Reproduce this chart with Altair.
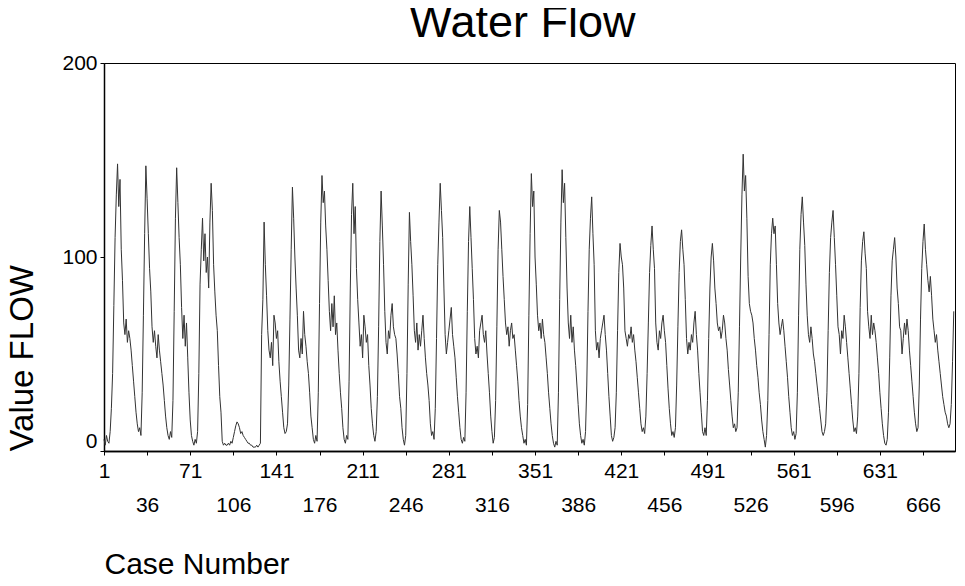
import altair as alt
import pandas as pd

# Water flow values (case 1 .. 691)
flow_a = [  # cases 1-95
    6, 3, 8, 5, 4, 10, 22, 40, 75, 110, 132,
    148, 126, 140, 104, 88, 66, 60, 68, 56, 62, 58, 52, 44, 36, 28, 20, 14, 10, 12, 8, 30, 70, 112,
    147, 130, 112, 94, 82, 64, 56, 62, 54, 48, 60, 52, 46, 40, 34, 26, 18, 12, 8, 6, 10, 7, 26, 72, 120,
    146, 128, 110, 96, 74, 58, 70, 54, 66, 48, 30, 16, 8, 5, 3, 6, 4, 10, 40, 86, 104,
    120, 98, 112, 92, 100, 84, 118, 138, 124, 96, 82, 70, 62, 44, 28,
]
flow_b = [  # cases 96-130
    20, 5, 3, 4, 3, 3, 4, 3, 5, 4, 7, 10, 13, 15, 14, 12, 9, 10, 8, 7,
    6, 5, 4, 4, 3, 3, 2, 2, 2, 3, 2, 3, 4, 60, 78,
]
flow_c = [  # cases 131-347
    118, 96, 80, 62, 52, 48, 56, 44, 70, 66, 58, 62, 46, 36, 28, 20, 12, 9, 10, 14, 34, 68, 104,
    136, 120, 100, 84, 70, 52, 48, 58, 50, 72, 60, 54, 46, 40, 30, 18, 12, 6, 4, 8, 5, 30, 76, 118,
    142, 128, 134, 116, 104, 88, 72, 62, 76, 64, 80, 60, 66, 52, 40, 30, 22, 12, 6, 4, 8, 6, 36, 84, 122,
    138, 112, 126, 94, 78, 66, 54, 60, 48, 70, 64, 56, 60, 44, 34, 22, 14, 8, 5, 10, 28, 64, 108,
    134, 116, 96, 72, 56, 50, 62, 58, 70, 76, 64, 60, 58, 50, 40, 28, 22, 12, 6, 3, 8, 40, 86,
    123, 108, 96, 80, 62, 56, 66, 52, 60, 54, 62, 70, 58, 48, 40, 34, 26, 14, 8, 10, 6, 22, 58, 96, 118,
    138, 124, 110, 84, 60, 50, 56, 62, 68, 74, 60, 54, 48, 38, 28, 20, 12, 6, 4, 7, 5, 30, 72, 108,
    126, 110, 94, 78, 58, 50, 54, 48, 62, 66, 70, 60, 56, 62, 50, 40, 30, 18, 10, 4, 7, 26, 64, 104,
    124, 118, 104, 90, 78, 66, 60, 64, 54, 62, 66, 58, 60, 52, 44, 36, 26, 18, 12, 8, 4, 6, 3, 24, 70, 112,
]
flow_d = [  # cases 348-691
    143, 126, 134, 100, 86, 70, 62, 66, 58, 68, 60, 56, 48, 40, 30, 22, 14, 8, 4, 2, 5, 3, 30, 78, 118,
    145, 128, 138, 110, 84, 66, 58, 70, 56, 64, 52, 44, 34, 24, 14, 8, 4, 6, 3, 10, 34, 72, 104, 120,
    131, 112, 96, 62, 52, 56, 48, 58, 62, 66, 70, 60, 52, 40, 28, 18, 8, 5, 7, 12, 30, 62, 92,
    107, 100, 96, 84, 62, 58, 54, 60, 58, 64, 56, 60, 52, 46, 38, 30, 22, 14, 10, 12, 9, 18, 40, 66, 92, 106,
    116, 104, 94, 66, 56, 52, 62, 58, 66, 70, 62, 56, 44, 32, 22, 14, 8, 10, 7, 12, 34, 64, 92, 108,
    114, 104, 96, 78, 58, 50, 56, 52, 60, 56, 66, 72, 60, 52, 40, 30, 20, 10, 8, 12, 8, 26, 58, 84, 100,
    107, 98, 84, 76, 66, 62, 64, 58, 62, 70, 66, 58, 52, 42, 34, 26, 18, 12, 14, 10, 12, 30, 64, 100, 132,
    153, 134, 142, 120, 90, 76, 72, 70, 66, 58, 52, 44, 38, 30, 24, 16, 10, 6, 2, 8, 26, 60, 96, 112,
    120, 112, 116, 96, 76, 66, 60, 64, 68, 62, 54, 46, 38, 28, 20, 12, 8, 10, 6, 9, 30, 70, 104, 122,
    131, 118, 106, 86, 70, 60, 56, 64, 58, 50, 46, 40, 34, 28, 22, 16, 10, 8, 10, 14, 30, 62, 92, 110, 118,
    124, 110, 96, 80, 64, 60, 50, 62, 58, 70, 64, 56, 48, 40, 32, 24, 16, 10, 12, 9, 18, 40, 74, 98, 108,
    113, 102, 94, 72, 64, 58, 70, 60, 66, 62, 56, 48, 40, 30, 22, 14, 8, 4, 3, 6, 20, 48, 80, 98, 104,
    110, 100, 84, 76, 64, 62, 50, 58, 66, 60, 68, 62, 52, 44, 36, 28, 20, 14, 10, 12, 34, 68, 94, 108,
    117, 104, 96, 88, 82, 90, 80, 68, 62, 56, 60, 52, 46, 40, 34, 28, 24, 20, 18, 14, 12, 14, 24, 46, 72,
]

x_ticks_row1 = [1, 71, 141, 211, 281, 351, 421, 491, 561, 631]
x_ticks_row2 = [36, 106, 176, 246, 316, 386, 456, 526, 596, 666]
y_ticks = [0, 100, 200]
x_domain = [1, 692]
y_domain = [0, 200]

flow = flow_a + flow_b + flow_c + flow_d
df = pd.DataFrame({"case": list(range(1, len(flow) + 1)), "flow": flow})

FONT = "Liberation Sans"

xscale = alt.Scale(domain=x_domain, nice=False, zero=False)
yscale = alt.Scale(domain=y_domain, nice=False)

y_axis = alt.Axis(
    values=y_ticks, title="Value FLOW", titleAnchor="start", titleFont=FONT,
    titleFontSize=33, titleFontWeight="normal", titleColor="black", titlePadding=22,
    labelFont=FONT, labelFontSize=21, labelColor="black", labelPadding=3,
    labelBaseline={"condition": {"test": "datum.value == 0", "value": "bottom"}, "value": "middle"},
    tickSize=4, tickColor="black", domainColor="black", domainWidth=1.5, grid=False,
)

x_axis1 = alt.Axis(
    values=x_ticks_row1, orient="bottom", title="Case Number", titleAnchor="start",
    titleAlign="left", titleFont=FONT, titleFontSize=30, titleFontWeight="normal",
    titleColor="black", titlePadding=68, labelFont=FONT, labelFontSize=21,
    labelColor="black", labelPadding=5, labelFlush=False, labelOverlap=False,
    tickSize=4, tickColor="black", domainColor="black", domainWidth=1.5, grid=False,
)
x_axis2 = alt.Axis(
    values=x_ticks_row2, orient="bottom", title=None, labelFont=FONT, labelFontSize=21,
    labelColor="black", labelPadding=39, labelFlush=False, labelOverlap=False,
    tickSize=4, tickColor="black", domainColor="black", domainWidth=1.5, grid=False,
)

line = alt.Chart(df).mark_line(color="#333333", strokeWidth=1).encode(
    x=alt.X("case:Q", scale=xscale, axis=x_axis1),
    y=alt.Y("flow:Q", scale=yscale, axis=y_axis),
)
line2 = alt.Chart(df).mark_line(color="#333333", strokeWidth=1, opacity=0).encode(
    x=alt.X("case:Q", scale=xscale, axis=x_axis2),
    y=alt.Y("flow:Q", scale=yscale, axis=y_axis),
)

chart = (
    alt.layer(line, line2)
    .resolve_axis(x="independent")
    .properties(
        width=851,
        height=388,
        autosize="none",
        padding={"left": 96, "top": 55, "right": 2, "bottom": 127},
        title=alt.TitleParams(
            "Water Flow", font=FONT, fontSize=45, fontWeight="normal", color="black",
            anchor="middle", offset=6, dx=-7,
        ),
    )
    .configure_view(stroke="black", strokeWidth=1)
)

chart.save("out.html", embed_options={"renderer": "svg", "actions": False})
